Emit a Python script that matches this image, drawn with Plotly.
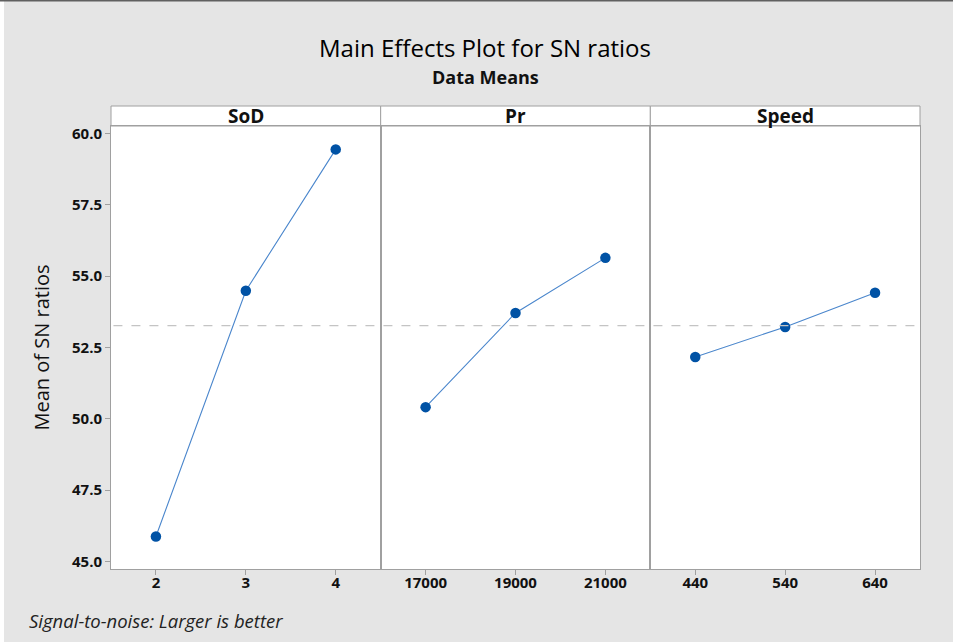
import numpy as np
import plotly.graph_objects as go
from plotly.subplots import make_subplots

# ---- data ----
factors = ["SoD", "Pr", "Speed"]
sod_levels = [2, 3, 4]
sod_sn = [45.88, 54.49, 59.44]
pr_levels = [17000, 19000, 21000]
pr_sn = [50.41, 53.71, 55.64]
speed_levels = [440, 540, 640]
speed_sn = [52.17, 53.22, 54.42]
y_ticks = [45.0, 47.5, 50.0, 52.5, 55.0, 57.5, 60.0]

levels = [sod_levels, pr_levels, speed_levels]
values = [sod_sn, pr_sn, speed_sn]
grand_mean = float(np.mean(sod_sn + pr_sn + speed_sn))

FONT = "Open Sans"
W, H = 953, 642
L, R, T, B = 111, 33, 126, 73
pw = W - L - R
ph = H - T - B

fig = make_subplots(rows=1, cols=3, horizontal_spacing=0, shared_yaxes=True)

for i, (lv, vals) in enumerate(zip(levels, values)):
    fig.add_trace(go.Scatter(
        x=lv, y=vals, mode="lines+markers",
        line=dict(color="#4a86cc", width=1.1),
        marker=dict(color="#0052a5", size=10.5),
        showlegend=False, hoverinfo="x+y"), row=1, col=i + 1)
    step = lv[1] - lv[0]
    fig.update_xaxes(
        range=[lv[0] - step / 2, lv[-1] + step / 2],
        tickvals=lv, ticktext=[str(v) for v in lv],
        ticks="outside", ticklen=5, tickcolor="#a0a0a0",
        ticklabelstandoff=-5,
        showline=True, linecolor="#a0a0a0", linewidth=1, mirror=True,
        showgrid=False, zeroline=False,
        tickfont=dict(family=FONT, size=15, color="#111111", weight="bold"),
        row=1, col=i + 1)
    fig.update_yaxes(
        range=[44.74, 60.26], tickvals=y_ticks,
        ticktext=[f"{v:.1f}" for v in y_ticks],
        showline=True, linecolor="#a0a0a0", linewidth=1, mirror=True,
        showgrid=False, zeroline=False,
        ticks="outside" if i == 0 else "", ticklen=5, tickcolor="#a0a0a0",
        showticklabels=(i == 0),
        tickfont=dict(family=FONT, size=15, color="#111111", weight="bold"),
        row=1, col=i + 1)

fig.update_yaxes(title=dict(text="Mean of SN ratios",
                            font=dict(family=FONT, size=20, color="#111111"),
                            standoff=16), row=1, col=1)

shapes = []
# grand mean reference line
shapes.append(dict(type="line", xref="paper", yref="y", x0=0.003, x1=0.997,
                   y0=grand_mean, y1=grand_mean,
                   line=dict(color="#c4c4c4", width=1.3, dash="dash")))
# strips
strip_h = 20 / ph
doms = [(0, 1 / 3), (1 / 3, 2 / 3), (2 / 3, 1)]
annotations = []
for (x0, x1), name in zip(doms, factors):
    shapes.append(dict(type="rect", xref="paper", yref="paper",
                       x0=x0, x1=x1, y0=1, y1=1 + strip_h,
                       fillcolor="white", line=dict(color="#a0a0a0", width=1),
                       layer="below"))
    annotations.append(dict(text=name, xref="paper", yref="paper",
                            x=(x0 + x1) / 2, y=1 + strip_h / 2,
                            showarrow=False, xanchor="center", yanchor="middle",
                            font=dict(family=FONT, size=19, color="#111111",
                                      weight="bold")))

def px_x(p):
    return (p - L) / pw

def px_y(p):
    return 1 - (p - T) / ph

# left white margin strip and top dark border
shapes.append(dict(type="rect", xref="paper", yref="paper",
                   x0=px_x(0), x1=px_x(4), y0=px_y(H), y1=px_y(0),
                   fillcolor="white", line=dict(width=0), layer="below"))
shapes.append(dict(type="rect", xref="paper", yref="paper",
                   x0=px_x(0), x1=px_x(W), y0=px_y(1.5), y1=px_y(0),
                   fillcolor="#606060", line=dict(width=0), layer="below"))

annotations.append(dict(text="Main Effects Plot for SN ratios",
                        xref="paper", yref="paper", x=px_x(485), y=px_y(48),
                        showarrow=False, xanchor="center", yanchor="middle",
                        font=dict(family=FONT, size=24, color="#000000",
                                  weight=500)))
annotations.append(dict(text="Data Means",
                        xref="paper", yref="paper", x=px_x(485), y=px_y(77),
                        showarrow=False, xanchor="center", yanchor="middle",
                        font=dict(family=FONT, size=18, color="#111111",
                                  weight="bold")))
annotations.append(dict(text="<i>Signal-to-noise: Larger is better</i>",
                        xref="paper", yref="paper", x=px_x(27), y=px_y(620),
                        showarrow=False, xanchor="left", yanchor="middle",
                        font=dict(family=FONT, size=18.5, color="#222222")))

fig.update_layout(
    width=W, height=H,
    margin=dict(l=L, r=R, t=T, b=B),
    paper_bgcolor="#e5e5e5", plot_bgcolor="white",
    shapes=shapes, annotations=annotations,
    font=dict(family=FONT),
)

fig.write_html("out.html",
               config={"displayModeBar": False},
               post_script="document.body.style.margin='0px';"
                           "document.body.style.overflow='hidden';")
